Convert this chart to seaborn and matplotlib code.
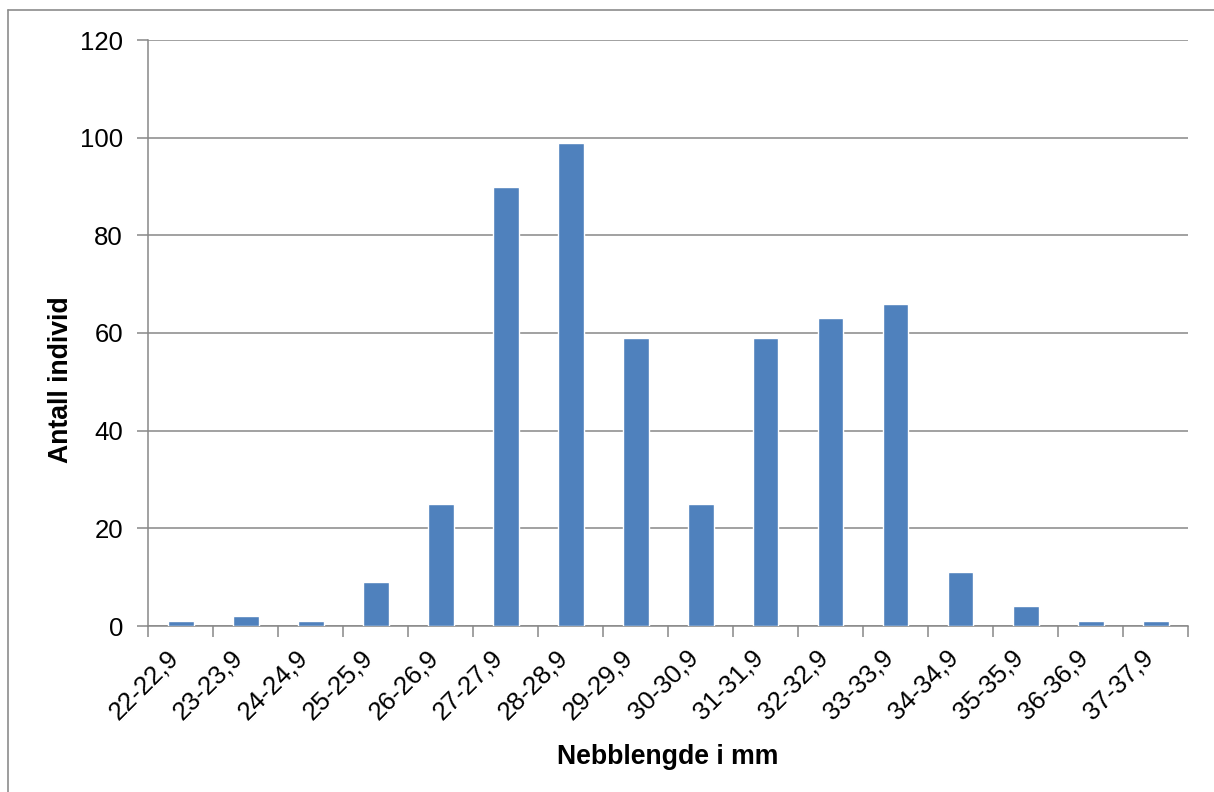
import numpy as np
import pandas as pd
import matplotlib
matplotlib.use("Agg")
import matplotlib.pyplot as plt
import matplotlib.transforms as mtransforms
from matplotlib.lines import Line2D
import seaborn as sns

categories = ["22-22,9", "23-23,9", "24-24,9", "25-25,9", "26-26,9", "27-27,9",
              "28-28,9", "29-29,9", "30-30,9", "31-31,9", "32-32,9", "33-33,9",
              "34-34,9", "35-35,9", "36-36,9", "37-37,9"]
counts = [1, 2, 1, 9, 25, 90, 99, 59, 25, 59, 63, 66, 11, 4, 1, 1]
y_ticks = [0, 20, 40, 60, 80, 100, 120]

sns.set_theme(style="white")
plt.rcParams["font.family"] = ["Liberation Sans", "DejaVu Sans"]
plt.rcParams["text.color"] = "black"
plt.rcParams["axes.labelcolor"] = "black"
plt.rcParams["xtick.color"] = "black"
plt.rcParams["ytick.color"] = "black"

W, H = 1214, 792
fig = plt.figure(figsize=(W / 100, H / 100), dpi=100)
ax = fig.add_axes([148 / W, 1 - 626 / H, (1188 - 148) / W, (626 - 40) / H])

df = pd.DataFrame({"kat": categories, "antall": counts})
sns.barplot(data=df, x="kat", y="antall", color="#4F81BD", saturation=1,
            width=0.4, ax=ax, zorder=3)

grid_c = "#888888"
ax.set_ylim(0, 120)
ax.set_xlim(-0.5, len(categories) - 0.5)
ax.set_yticks(y_ticks)
ax.yaxis.grid(True, color=grid_c, linewidth=1.1, zorder=0)
ax.set_axisbelow(True)

for s in ["top", "right"]:
    ax.spines[s].set_visible(False)
for s in ["left", "bottom"]:
    ax.spines[s].set_color(grid_c)
    ax.spines[s].set_linewidth(1.1)

ax.tick_params(axis="y", which="major", direction="out", length=8, width=1.1,
               color=grid_c, labelcolor="black", labelsize=18.5, pad=10, left=True)
ax.set_xticks(np.arange(len(categories)))
ax.set_xticklabels(categories, rotation=45, ha="right", va="center",
                   rotation_mode="anchor")
ax.tick_params(axis="x", which="major", length=0, labelsize=18.5, pad=20,
               labelcolor="black")
ax.set_xticks(np.arange(-0.5, len(categories)), minor=True)
ax.tick_params(axis="x", which="minor", direction="out", length=8, width=1.1,
               color=grid_c, bottom=True)

# nudge the rotated category labels slightly to the left
shift = mtransforms.ScaledTranslation(-6 / 100, 0, fig.dpi_scale_trans)
for tick in ax.xaxis.get_major_ticks():
    tick.label1.set_transform(tick.label1.get_transform() + shift)

ax.set_xlabel("Nebblengde i mm", fontsize=19.2, fontweight="bold", labelpad=14,
              color="black")
ax.set_ylabel("Antall individ", fontsize=19.2, fontweight="bold", labelpad=4,
              color="black")
ax.yaxis.label.set_y((626 - 380) / (626 - 40))

# outer frame
fig.add_artist(Line2D([8 / W, 8 / W], [0, 1 - 10 / H], transform=fig.transFigure,
                      color="#8c8c8c", linewidth=1.2))
fig.add_artist(Line2D([8 / W, 1], [1 - 10 / H, 1 - 10 / H], transform=fig.transFigure,
                      color="#8c8c8c", linewidth=1.2))

fig.savefig("out.png", dpi=100, facecolor="white")
